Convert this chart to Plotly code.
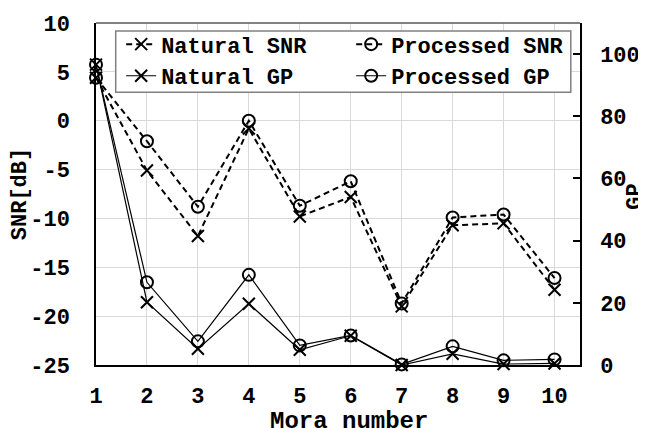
import plotly.graph_objects as go

mora = [1, 2, 3, 4, 5, 6, 7, 8, 9, 10]
natural_snr = [4.4, -5.1, -11.8, -0.8, -9.8, -7.8, -19.0, -10.7, -10.5, -17.3]
processed_snr = [4.4, -2.1, -8.8, 0.0, -8.7, -6.2, -18.7, -9.9, -9.6, -16.1]
natural_gp = [96.6, 20.2, 5.2, 19.7, 4.9, 9.4, 0.0, 3.6, 0.3, 0.5]
processed_gp = [96.6, 26.6, 7.6, 29.0, 6.3, 9.5, 0.2, 6.0, 1.5, 1.8]

snr_ticks = [10, 5, 0, -5, -10, -15, -20, -25]
snr_ticktext = ["10", "5", "0", "-5", "-10", "-15", "-20", "-25"]
gp_ticks = [0, 20, 40, 60, 80, 100]

FONT = "Courier New, Liberation Mono, monospace"
fs = 22

fig = go.Figure()

def add(name, x, y, symbol, dash, width, yaxis):
    fig.add_trace(go.Scatter(
        x=x, y=y, name=name, mode="lines+markers", yaxis=yaxis,
        line=dict(color="black", width=width, dash=dash),
        marker=dict(symbol=symbol, size=12, color="black",
                    line=dict(color="black", width=2)),
        cliponaxis=False,
    ))

add("Natural SNR", mora, natural_snr, "x-thin-open", "6px,4px", 2, "y")
add("Processed SNR", mora, processed_snr, "circle-open", "6px,4px", 2, "y")
add("Natural GP", mora, natural_gp, "x-thin-open", "solid", 1.2, "y2")
add("Processed GP", mora, processed_gp, "circle-open", "solid", 1.2, "y2")

# page body has an 8px margin: figure is sized/offset to compensate
fig.update_layout(
    width=638, height=420,
    margin=dict(l=88, r=66, t=15, b=63),
    paper_bgcolor="white", plot_bgcolor="white",
    font=dict(family=FONT, size=fs, color="black", weight="bold"),
    showlegend=True,
    legend=dict(
        orientation="h", x=0.052, y=0.999, xanchor="left", yanchor="top",
        bgcolor="rgba(0,0,0,0)", borderwidth=0,
        entrywidth=185, entrywidthmode="pixels",
        font=dict(family=FONT, size=fs, weight="bold"),
    ),
    xaxis=dict(
        range=[1, 10.5], tickvals=mora, ticks="", showline=True,
        linecolor="black", linewidth=1.5, showgrid=True, gridcolor="#d9d9d9",
        gridwidth=1, zeroline=False, ticklabelstandoff=10,
        automargin=False,
    ),
    yaxis=dict(
        range=[-25, 10], tickvals=snr_ticks, ticktext=snr_ticktext, ticks="",
        showline=True, linecolor="black", linewidth=1.5, showgrid=True,
        gridcolor="#d9d9d9", gridwidth=1, zeroline=False, ticklabelstandoff=20,
        title=dict(text="SNR[dB]", standoff=0,
                   font=dict(family=FONT, size=fs, weight="bold")),
        automargin=False,
    ),
    yaxis2=dict(
        range=[0, 110], tickvals=gp_ticks, overlaying="y", side="right",
        ticks="inside", ticklen=7, tickwidth=1.5, tickcolor="black",
        showline=True, linecolor="black", linewidth=1.5, showgrid=False,
        zeroline=False, ticklabelstandoff=14,
        automargin=False,
    ),
    annotations=[
        dict(text="Mora number", xref="paper", yref="paper", x=0.523, y=-0.166,
             xanchor="center", yanchor="middle", showarrow=False,
             font=dict(family=FONT, size=24, weight="bold")),
        dict(text="GP", xref="paper", yref="paper", x=1.113, y=0.491,
             xanchor="center", yanchor="middle", showarrow=False, textangle=-90,
             font=dict(family=FONT, size=fs, weight="bold")),
    ],
    shapes=[
        dict(type="line", xref="paper", yref="paper", x0=0, x1=1, y0=1, y1=1,
             line=dict(color="#595959", width=1.5)),
        dict(type="rect", xref="paper", yref="paper", x0=0.0407, x1=0.981,
             y0=0.7977, y1=0.9767, layer="above", fillcolor="white",
             line=dict(color="#808080", width=1.5)),
    ],
)

fig.write_html("out.html")
